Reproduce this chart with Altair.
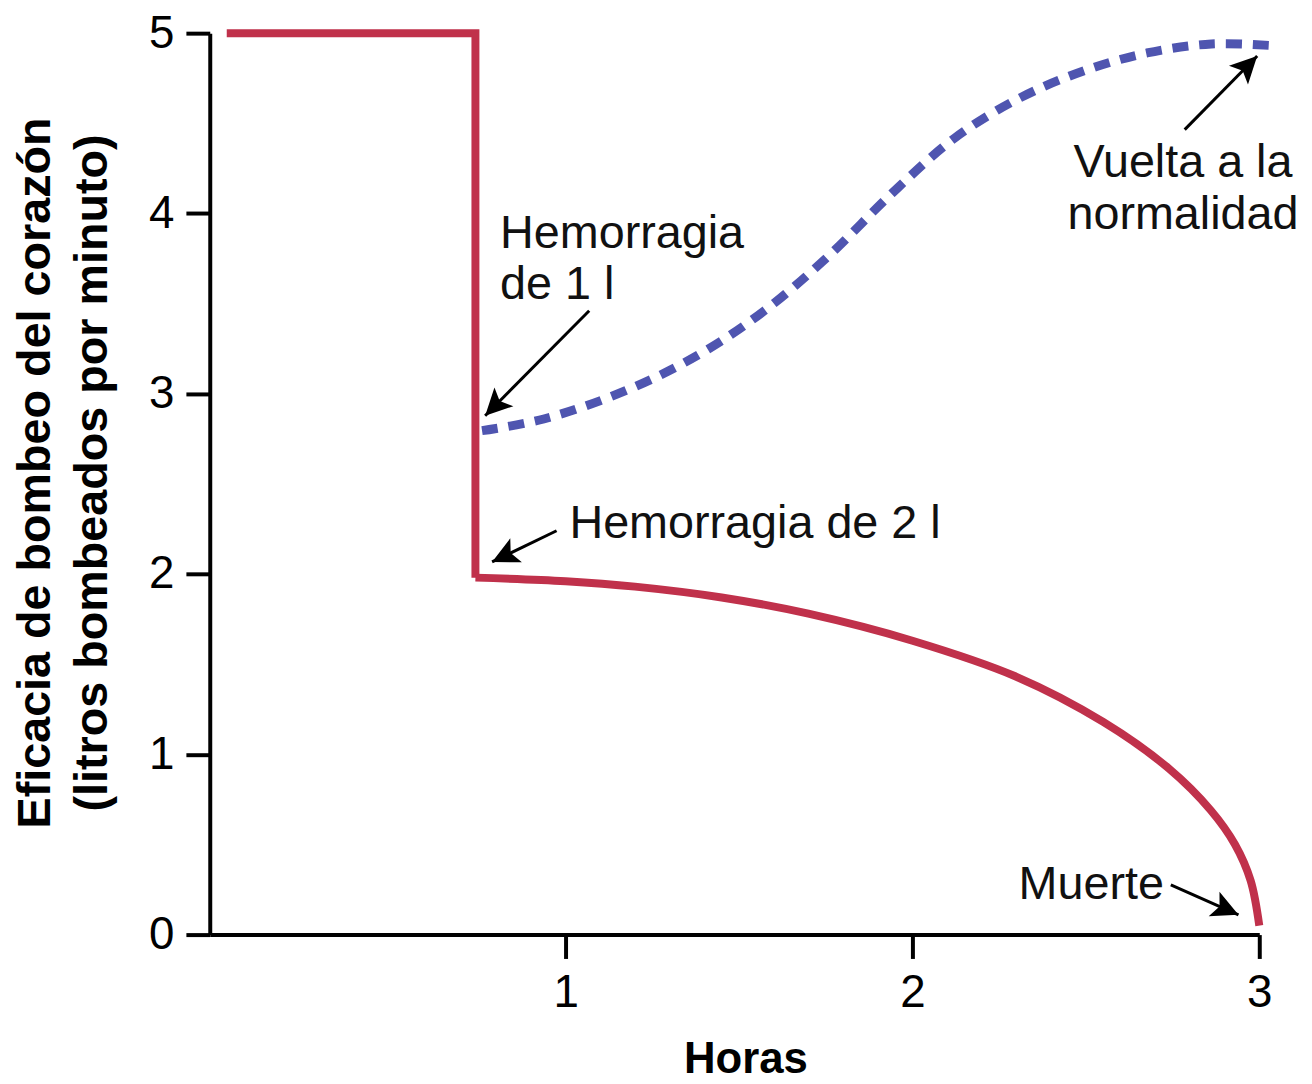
import math
import altair as alt
import pandas as pd

# ---- data ----
step_x = [0.023, 0.74, 0.74]
step_y = [5.0, 5.0, 1.98]

curve_x = [0.74, 1.0, 1.2, 1.45, 1.7, 2.0, 2.3, 2.55, 2.74, 2.86, 2.93, 2.975, 3.0]
curve_y = [1.98, 1.96, 1.93, 1.87, 1.78, 1.63, 1.43, 1.18, 0.92, 0.69, 0.50, 0.30, 0.05]

blue_x = [0.759, 0.937, 1.177, 1.387, 1.573, 1.756, 1.940, 2.123, 2.309, 2.493, 2.676, 2.862, 3.046]
blue_y = [2.795, 2.86, 3.02, 3.22, 3.46, 3.76, 4.11, 4.42, 4.64, 4.79, 4.89, 4.94, 4.93]

arrow_x1 = [1.068, 0.974, 2.785, 2.745]
arrow_y1 = [3.46, 2.24, 4.465, 0.276]
arrow_x2 = [0.768, 0.788, 2.994, 2.940]
arrow_y2 = [2.878, 2.067, 4.873, 0.110]

left_labels = ["Hemorragia\nde 1 l", "Hemorragia de 2 l"]
left_x = [0.811, 1.011]
left_y = [3.81, 2.20]

center_labels = ["Vuelta a la\nnormalidad"]
center_x = [2.78]
center_y = [4.20]

right_labels = ["Muerte"]
right_x = [2.725]
right_y = [0.20]

x_ticks = [1, 2, 3]
y_ticks = [0, 1, 2, 3, 4, 5]
x_title = "Horas"
y_title = ["Eficacia de bombeo del corazón", "(litros bombeados por minuto)"]

# ---- layout ----
W, H = 1056, 907
XDOM = [-0.026, 3.0]
YDOM = [0, 5]
px_x = W / (XDOM[1] - XDOM[0])
px_y = H / (YDOM[1] - YDOM[0])

RED = "#C0314B"
BLUE = "#4F55B0"
FONT = "Liberation Sans"

xs = alt.Scale(domain=XDOM, nice=False, zero=False)
ys = alt.Scale(domain=YDOM, nice=False)

x_axis = alt.Axis(values=x_ticks, format="d", title=x_title, grid=False,
                  domainColor="black", domainWidth=4, tickColor="black", tickWidth=4,
                  tickSize=24, labelFontSize=46, labelFont=FONT, labelColor="black",
                  labelPadding=12, labelFlush=False,
                  titleFont=FONT, titleFontSize=44, titleFontWeight="bold", titleColor="black",
                  titleX=539, titleY=139, titleBaseline="alphabetic", titleAlign="center")
y_axis = alt.Axis(values=y_ticks, format="d", title=y_title, grid=False,
                  domainColor="black", domainWidth=4, tickColor="black", tickWidth=4,
                  tickSize=24, labelFontSize=46, labelFont=FONT, labelColor="black",
                  labelPadding=12, labelFlush=False,
                  titleFont=FONT, titleFontSize=47, titleFontWeight="bold", titleColor="black",
                  titleAngle=270, titleX=-161, titleY=442, titleBaseline="alphabetic",
                  titleAlign="center", titleLineHeight=57)

step_df = pd.DataFrame({"x": step_x, "y": step_y, "o": range(len(step_x))})
curve_df = pd.DataFrame({"x": curve_x, "y": curve_y})
blue_df = pd.DataFrame({"x": blue_x, "y": blue_y})

angles = []
for a, b, c, d in zip(arrow_x1, arrow_y1, arrow_x2, arrow_y2):
    dx = (c - a) * px_x
    dy = -(d - b) * px_y
    angles.append(math.degrees(math.atan2(dx, -dy)) % 360)
arrow_df = pd.DataFrame({"x1": arrow_x1, "y1": arrow_y1, "x2": arrow_x2, "y2": arrow_y2,
                         "angle": angles})

step = alt.Chart(step_df).mark_line(color=RED, strokeWidth=8, strokeCap="butt",
                                    strokeJoin="miter", clip=False).encode(
    x=alt.X("x:Q", scale=xs, axis=x_axis),
    y=alt.Y("y:Q", scale=ys, axis=y_axis),
    order="o:Q",
)
curve = alt.Chart(curve_df).mark_line(color=RED, strokeWidth=8, strokeCap="butt",
                                      interpolate="catmull-rom", clip=False).encode(
    x=alt.X("x:Q", scale=xs), y=alt.Y("y:Q", scale=ys))
blue = alt.Chart(blue_df).mark_line(color=BLUE, strokeWidth=9, strokeDash=[16, 11],
                                    strokeCap="butt", interpolate="catmull-rom",
                                    clip=False).encode(
    x=alt.X("x:Q", scale=xs), y=alt.Y("y:Q", scale=ys))

shafts = alt.Chart(arrow_df).mark_rule(color="black", strokeWidth=3).encode(
    x=alt.X("x1:Q", scale=xs), y=alt.Y("y1:Q", scale=ys),
    x2="x2:Q", y2="y2:Q")
heads = alt.Chart(arrow_df).mark_point(
    shape="M0,0 L1.0,2 L0,1.55 L-1.0,2 Z", filled=True, color="black",
    opacity=1, size=720, strokeWidth=0).encode(
    x=alt.X("x2:Q", scale=xs), y=alt.Y("y2:Q", scale=ys),
    angle=alt.Angle("angle:Q", scale=None))


def text_layer(labels, xv, yv, align):
    df = pd.DataFrame({"x": xv, "y": yv, "t": labels})
    return alt.Chart(df).mark_text(align=align, baseline="alphabetic", font=FONT,
                                   fontSize=47, color="#111111", lineBreak="\n",
                                   lineHeight=52).encode(
        x=alt.X("x:Q", scale=xs), y=alt.Y("y:Q", scale=ys), text="t:N")


texts = (text_layer(left_labels, left_x, left_y, "left")
         + text_layer(center_labels, center_x, center_y, "center")
         + text_layer(right_labels, right_x, right_y, "right"))

chart = alt.layer(step, curve, blue, shafts, heads, texts).properties(
    width=W, height=H,
    autosize=alt.AutoSizeParams(type="none"),
    padding={"left": 203, "top": 22, "right": 45, "bottom": 145},
    background="white",
).configure_view(stroke=None)

chart.save("out.html", embed_options={"renderer": "svg", "actions": False})
